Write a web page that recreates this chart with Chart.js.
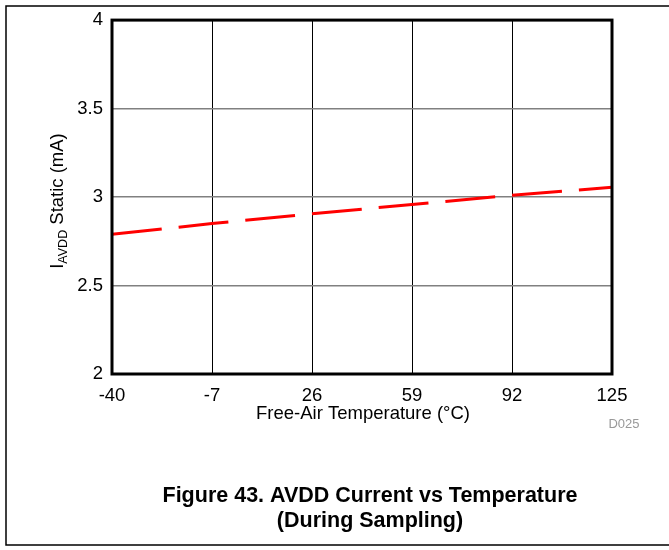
<!DOCTYPE html>
<html><head><meta charset="utf-8">
<script src="https://cdn.jsdelivr.net/npm/chart.js@4/dist/chart.umd.min.js"></script>
<style>html,body{margin:0;padding:0;background:#fff}#wrap{position:relative;width:669px;height:550px}</style>
</head><body><div id="wrap"><canvas id="c" width="669" height="550"></canvas></div>
<script>
const temperatures = [-40, -7, 26, 59, 92, 125];
const iavddStatic = [2.79, 2.85, 2.905, 2.958, 3.01, 3.055];
const xTicks = [-40, -7, 26, 59, 92, 125];
const yTicks = [2, 2.5, 3, 3.5, 4];
const xTitle = 'Free-Air Temperature (°C)';
const yTitleMain = 'I', yTitleSub = 'AVDD', yTitleRest = ' Static (mA)';
const captionLines = ['Figure 43. AVDD Current vs Temperature', '(During Sampling)'];
const figId = 'D025';
const FONT = "'Liberation Sans', Arial, sans-serif";

const deco = {
  id: 'deco',
  beforeDraw(chart) {
    const ctx = chart.ctx;
    ctx.save();
    ctx.fillStyle = '#fff';
    ctx.fillRect(0, 0, chart.width, chart.height);
    ctx.strokeStyle = '#000';
    ctx.lineWidth = 1.5;
    ctx.beginPath();
    ctx.moveTo(669, 6); ctx.lineTo(6, 6); ctx.lineTo(6, 545); ctx.lineTo(669, 545);
    ctx.stroke();
    ctx.restore();
  },
  afterDatasetsDraw(chart) {
    const ctx = chart.ctx, a = chart.chartArea;
    ctx.save();
    ctx.strokeStyle = '#000';
    ctx.lineWidth = 3;
    ctx.strokeRect(a.left, a.top, a.right - a.left, a.bottom - a.top);
    // x title
    ctx.fillStyle = '#000';
    ctx.font = '18.5px ' + FONT;
    ctx.textAlign = 'center';
    ctx.textBaseline = 'middle';
    ctx.fillText(xTitle, 363, 414);
    // fig id
    ctx.fillStyle = '#999';
    ctx.font = '13px ' + FONT;
    ctx.fillText(figId, 624, 424);
    // y title with subscript
    ctx.save();
    ctx.translate(63, 201);
    ctx.rotate(-Math.PI / 2);
    ctx.fillStyle = '#000';
    ctx.textBaseline = 'alphabetic';
    ctx.textAlign = 'left';
    const fMain = '18.5px ' + FONT, fSub = '12.5px ' + FONT;
    ctx.font = fMain; const w1 = ctx.measureText(yTitleMain).width; const w3 = ctx.measureText(yTitleRest).width;
    ctx.font = fSub; const w2 = ctx.measureText(yTitleSub).width;
    let x = -(w1 + w2 + w3) / 2;
    ctx.font = fMain; ctx.fillText(yTitleMain, x, 0); x += w1;
    ctx.font = fSub; ctx.fillText(yTitleSub, x, 4); x += w2;
    ctx.font = fMain; ctx.fillText(yTitleRest, x, 0);
    ctx.restore();
    // caption
    ctx.fillStyle = '#000';
    ctx.font = 'bold 21.5px ' + FONT;
    ctx.textAlign = 'center';
    ctx.textBaseline = 'middle';
    ctx.fillText(captionLines[0], 370, 496);
    ctx.fillText(captionLines[1], 370, 521);
    ctx.restore();
  }
};

new Chart(document.getElementById('c'), {
  type: 'line',
  data: {
    datasets: [{
      data: temperatures.map((t, i) => ({x: t, y: iavddStatic[i]})),
      borderColor: '#ff0000',
      borderWidth: 3,
      borderDash: [50, 17],
      pointRadius: 0,
      tension: 0,
      fill: false
    }]
  },
  options: {
    responsive: false,
    animation: false,
    devicePixelRatio: 1,
    layout: {padding: {left: 0, top: 19, right: 57, bottom: 136}},
    plugins: {legend: {display: false}, tooltip: {enabled: false}},
    scales: {
      x: {
        type: 'linear', min: -40, max: 125,
        afterBuildTicks: s => { s.ticks = xTicks.map(v => ({value: v})); },
        afterFit: s => { s.height = 40; },
        grid: {color: '#000', lineWidth: 1, drawTicks: false},
        border: {display: false},
        ticks: {color: '#000', font: {family: FONT, size: 18.5}, padding: 11, maxRotation: 0, autoSkip: false,
                callback: v => String(v)}
      },
      y: {
        type: 'linear', min: 2, max: 4,
        afterBuildTicks: s => { s.ticks = yTicks.map(v => ({value: v})); },
        afterFit: s => { s.width = 112; },
        grid: {color: '#808080', lineWidth: 1.5, drawTicks: false},
        border: {display: false},
        ticks: {color: '#000', font: {family: FONT, size: 18.5}, padding: 9, callback: v => String(v)}
      }
    }
  },
  plugins: [deco]
});
</script></body></html>
